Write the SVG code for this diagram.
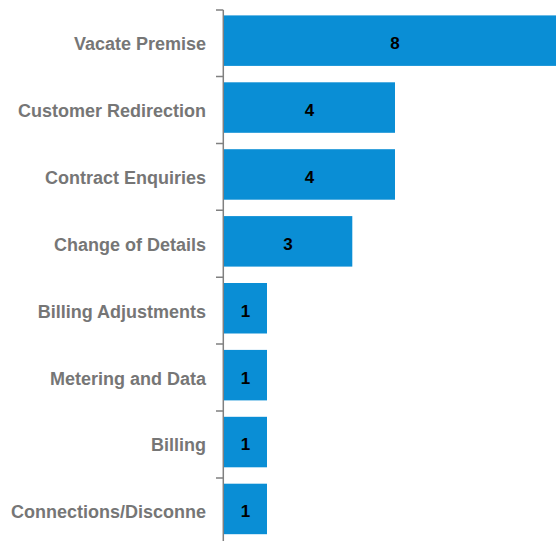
<svg xmlns="http://www.w3.org/2000/svg" width="556" height="541" viewBox="0 0 556 541">
<style>
.bar{fill:#0A8ED5}
.cat{font-family:"Liberation Sans",Arial,sans-serif;font-size:18px;font-weight:bold;fill:#767676;text-anchor:end}
.val{font-family:"Liberation Sans",Arial,sans-serif;font-size:17px;font-weight:bold;fill:#000;text-anchor:middle}
.ax{stroke:#808080;stroke-width:1.5;fill:none}
</style>
<rect width="556" height="541" fill="#fff"/>
<g id="axis">
<line class="ax" x1="223.3" y1="10" x2="223.3" y2="541"/>
<path class="ax" d="M216 10H223.3M216 76.5H223.3M216 143.4H223.3M216 210.3H223.3M216 277.2H223.3M216 344.1H223.3M216 411H223.3M216 477.9H223.3"/>
</g>
<g id="n1"><rect class="bar" x="224" y="15.4" width="342" height="50.5"/><text class="cat" x="206" y="50">Vacate Premise</text><text class="val" x="395" y="49">8</text></g>
<g id="n2"><rect class="bar" x="224" y="82.3" width="171" height="50.5"/><text class="cat" x="206" y="116.9">Customer Redirection</text><text class="val" x="309.5" y="115.9">4</text></g>
<g id="n3"><rect class="bar" x="224" y="149.2" width="171" height="50.5"/><text class="cat" x="206" y="183.8">Contract Enquiries</text><text class="val" x="309.5" y="182.8">4</text></g>
<g id="n4"><rect class="bar" x="224" y="216.1" width="128.3" height="50.5"/><text class="cat" x="206" y="250.7">Change of Details</text><text class="val" x="288" y="249.7">3</text></g>
<g id="n5"><rect class="bar" x="224" y="283" width="43" height="50.5"/><text class="cat" x="206" y="317.6">Billing Adjustments</text><text class="val" x="245.5" y="316.6">1</text></g>
<g id="n6"><rect class="bar" x="224" y="349.9" width="43" height="50.5"/><text class="cat" x="206" y="384.5">Metering and Data</text><text class="val" x="245.5" y="383.5">1</text></g>
<g id="n7"><rect class="bar" x="224" y="416.8" width="43" height="50.5"/><text class="cat" x="206" y="451.4">Billing</text><text class="val" x="245.5" y="450.4">1</text></g>
<g id="n8"><rect class="bar" x="224" y="483.7" width="43" height="50.5"/><text class="cat" x="206" y="518.3">Connections/Disconne</text><text class="val" x="245.5" y="517.3">1</text></g>
</svg>
